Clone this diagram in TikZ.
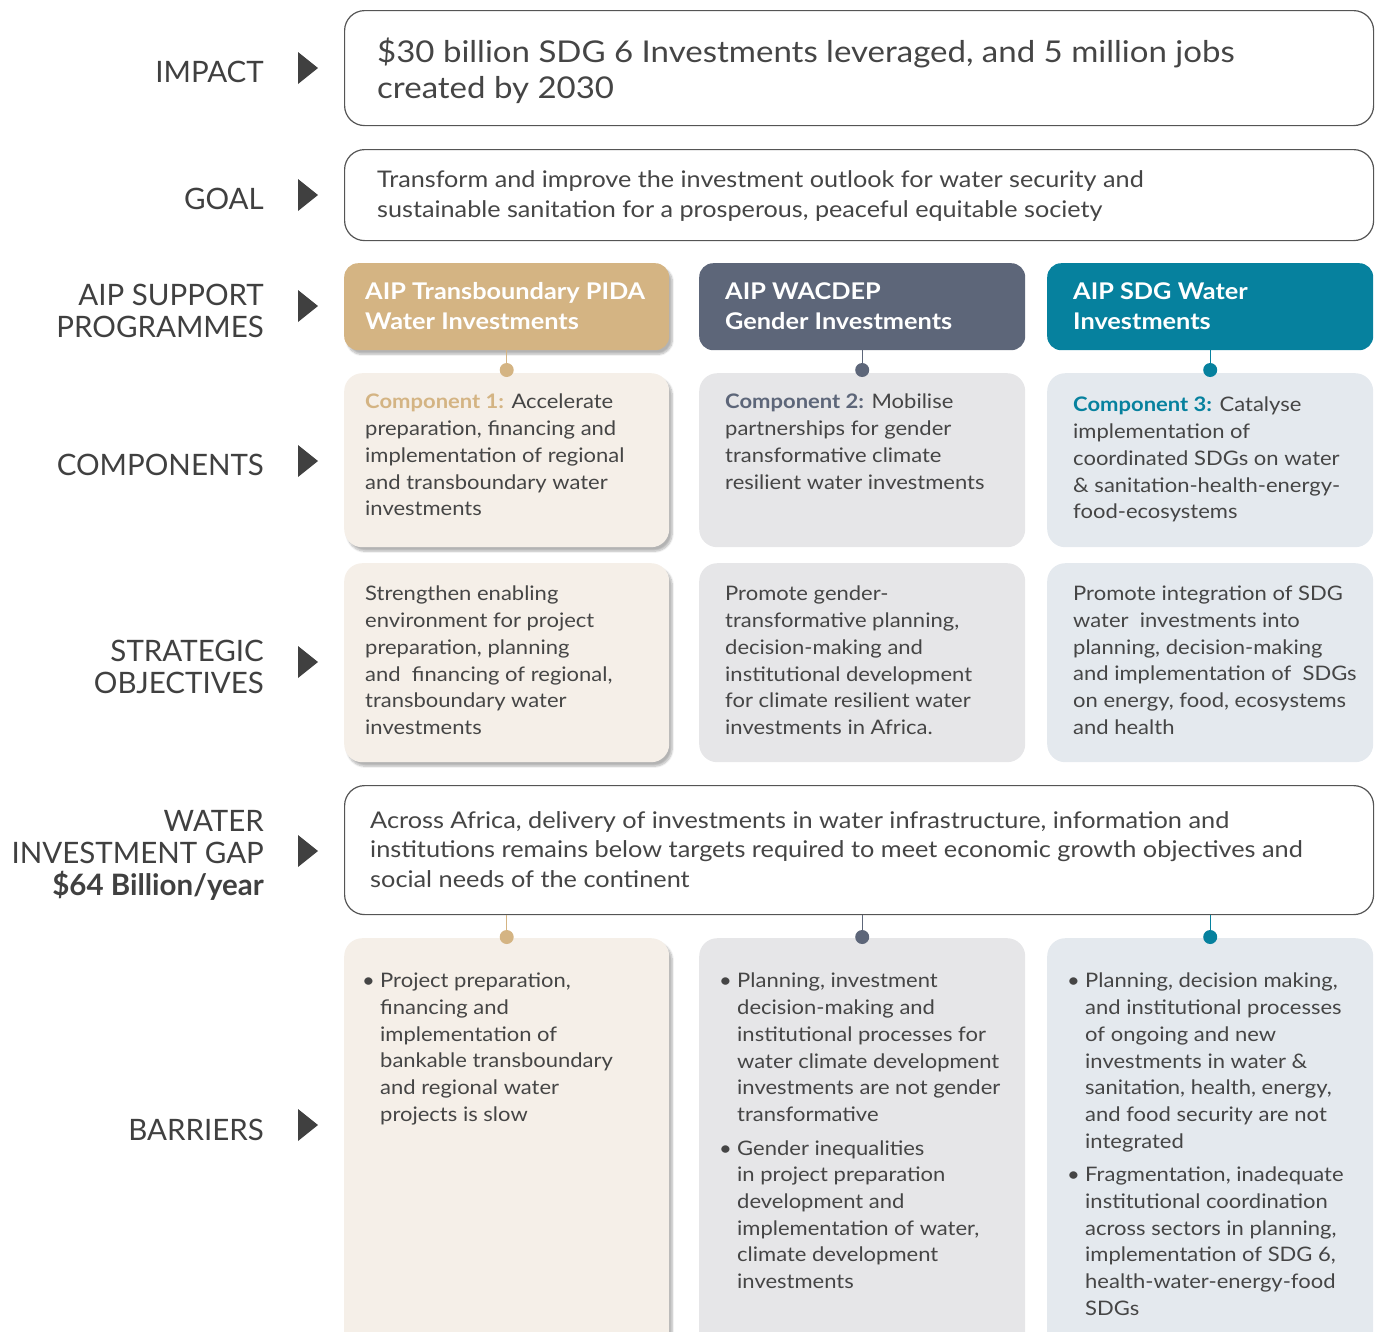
\documentclass[tikz,border=0pt]{standalone}
\usepackage{fontspec}
\setmainfont{Lato}[FakeStretch=1.1]
\newfontfamily\labfont{Lato}
\usetikzlibrary{calc,shadows.blur}

\definecolor{labgray}{HTML}{404040}
\definecolor{bodygray}{HTML}{454545}
\definecolor{boxline}{HTML}{555555}
\definecolor{pidatan}{HTML}{D4B483}
\definecolor{wacslate}{HTML}{5D6679}
\definecolor{sdgteal}{HTML}{06819E}
\definecolor{pidafill}{HTML}{F5EFE8}
\definecolor{wacfill}{HTML}{E6E6E8}
\definecolor{sdgfill}{HTML}{E4E9EE}

\newcommand{\bitem}{\makebox[18pt][l]{\textbullet}}
\newcommand{\bcont}{\hspace*{18pt}}

\tikzset{
  lab/.style={anchor=east, align=right, text=labgray, inner sep=0pt,
    font=\labfont\fontsize{29.5}{32}\selectfont},
  whitebox/.style={draw=boxline, line width=1.2pt, fill=white, rounded corners=20pt,
    anchor=north west, minimum width=1029pt, inner sep=0pt},
  headbox/.style={rounded corners=14pt, anchor=north west, minimum width=326pt,
    minimum height=87pt, inner sep=0pt},
  cellbox/.style={rounded corners=18pt, anchor=north west, minimum width=326pt, inner sep=0pt},
  celltext/.style={anchor=north west, align=left, inner sep=0pt, text=bodygray,
    font=\fontsize{20}{26.7}\selectfont},
  headtext/.style={anchor=north west, align=left, inner sep=0pt, text=white,
    font=\bfseries\fontsize{23}{30}\selectfont},
  tanshadow/.style={blur shadow={shadow xshift=3pt, shadow yshift=-4pt,
    shadow blur steps=8, shadow opacity=30}},
  dot/.style={circle, fill, inner sep=0pt, minimum size=14pt},
  link/.style={line width=1.2pt},
}

\begin{document}
\begin{tikzpicture}[x=1pt, y=-1pt]
\clip (0,0) rectangle (1379,1331);

% row labels
\node[lab] (impactlab) at (264,72) {IMPACT};
\node[lab] (goallab) at (264,199) {GOAL};
\node[lab] (proglab) at (264,311) {AIP SUPPORT\\PROGRAMMES};
\node[lab] (complab) at (264,465) {COMPONENTS};
\node[lab] (objlab) at (264,667) {STRATEGIC\\OBJECTIVES};
\node[lab] (gaplab) at (264,855) {WATER\\INVESTMENT GAP\\\textbf{\$64 Billion/year}};
\node[lab] (barlab) at (264,1130) {BARRIERS};

\foreach \y in {68,195,306,461,662,851,1125}
  \fill[labgray] (298,\y-16) -- (318,\y) -- (298,\y+16) -- cycle;

% impact and goal
\node[whitebox, minimum height=115pt] (impact) at (344,10) {};
\node[anchor=north west, align=left, inner sep=0pt, text=bodygray,
  font=\fontsize{30}{36}\selectfont] (impacttxt) at (377,38)
  {\$30 billion SDG 6 Investments leveraged, and 5 million jobs\\created by 2030};

\node[whitebox, minimum height=91pt] (goal) at (344,149) {};
\node[anchor=north west, align=left, inner sep=0pt, text=bodygray,
  font=\fontsize{22.9}{30}\selectfont] (goaltxt) at (377,170)
  {Transform and improve the investment outlook for water security and\\
   sustainable sanitation for a prosperous, peaceful equitable society};

% programmes
\node[headbox, fill=pidatan, minimum width=325pt, tanshadow] (h1) at (344,263) {};
\node[headbox, fill=wacslate] (h2) at (699,263) {};
\node[headbox, fill=sdgteal] (h3) at (1047,263) {};
\node[headtext] (h1t) at (365,282) {AIP Transboundary PIDA\\Water Investments};
\node[headtext] (h2t) at (725,282) {AIP WACDEP\\Gender Investments};
\node[headtext] (h3t) at (1073,282) {AIP SDG Water\\Investments};

% components
\node[cellbox, fill=pidafill, minimum width=325pt, minimum height=174pt, tanshadow] (c1) at (344,373) {};
\node[cellbox, fill=wacfill, minimum height=174pt] (c2) at (699,373) {};
\node[cellbox, fill=sdgfill, minimum height=174pt] (c3) at (1047,373) {};

\node[dot, pidatan] (d1) at (h1.south |- 0,370) {};
\node[dot, wacslate] (d2) at (h2.south |- 0,370) {};
\node[dot, sdgteal] (d3) at (h3.south |- 0,370) {};
\draw[link, pidatan] (h1.south) -- (d1);
\draw[link, wacslate] (h2.south) -- (d2);
\draw[link, sdgteal] (h3.south) -- (d3);

\node[celltext] (c1t) at (365,394)
  {\textcolor{pidatan}{\bfseries Component 1:} Accelerate\\preparation, financing and\\
   implementation of regional\\and transboundary water\\investments};
\node[celltext] (c2t) at (725,394)
  {\textcolor{wacslate}{\bfseries Component 2:} Mobilise\\partnerships for gender\\
   transformative climate\\resilient water investments};
\node[celltext] (c3t) at (1073,397)
  {\textcolor{sdgteal}{\bfseries Component 3:} Catalyse\\implementation of\\
   coordinated SDGs on water\\\& sanitation-health-energy-\\food-ecosystems};

% strategic objectives
\node[cellbox, fill=pidafill, minimum width=325pt, minimum height=199pt, tanshadow] (o1) at (344,563) {};
\node[cellbox, fill=wacfill, minimum height=199pt] (o2) at (699,563) {};
\node[cellbox, fill=sdgfill, minimum height=199pt] (o3) at (1047,563) {};

\node[celltext] (o1t) at (365,586)
  {Strengthen enabling\\environment for project\\preparation, planning\\
   and\ \ financing of regional,\\transboundary water\\investments};
\node[celltext] (o2t) at (725,586)
  {Promote gender-\\transformative planning,\\decision-making and\\
   institutional development\\for climate resilient water\\investments in Africa.};
\node[celltext] (o3t) at (1073,586)
  {Promote integration of SDG\\water\ \ investments into\\planning, decision-making\\
   and implementation of\ \ SDGs\\on energy, food, ecosystems\\and health};

% investment gap
\node[whitebox, minimum height=129pt] (gap) at (344,785) {};
\node[anchor=north west, align=left, inner sep=0pt, text=bodygray,
  font=\fontsize{23}{29.5}\selectfont] (gaptxt) at (370,811)
  {Across Africa, delivery of investments in water infrastructure, information and\\
   institutions remains below targets required to meet economic growth objectives and\\
   social needs of the continent};

% barriers
\node[cellbox, fill=pidafill, minimum width=325pt, minimum height=420pt, tanshadow] (b1) at (344,938) {};
\node[cellbox, fill=wacfill, minimum height=420pt] (b2) at (699,938) {};
\node[cellbox, fill=sdgfill, minimum height=420pt] (b3) at (1047,938) {};

\node[dot, pidatan] (d4) at (d1 |- 0,937) {};
\node[dot, wacslate] (d5) at (d2 |- 0,937) {};
\node[dot, sdgteal] (d6) at (d3 |- 0,937) {};
\draw[link, pidatan] (gap.south -| d4) -- (d4);
\draw[link, wacslate] (gap.south -| d5) -- (d5);
\draw[link, sdgteal] (gap.south -| d6) -- (d6);

\node[celltext] (b1t) at (362,973)
  {\bitem Project preparation,\\\bcont financing and\\\bcont implementation of\\
   \bcont bankable transboundary\\\bcont and regional water\\\bcont projects is slow};
\node[celltext] (b2t) at (719,973)
  {\bitem Planning, investment\\\bcont decision-making and\\\bcont institutional processes for\\
   \bcont water climate development\\\bcont investments are not gender\\\bcont transformative\\[7pt]
   \bitem Gender inequalities\\\bcont in project preparation\\\bcont development and\\
   \bcont implementation of water,\\\bcont climate development\\\bcont investments};
\node[celltext] (b3t) at (1067,973)
  {\bitem Planning, decision making,\\\bcont and institutional processes\\\bcont of ongoing and new\\
   \bcont investments in water \&\\\bcont sanitation, health, energy,\\\bcont and food security are not\\
   \bcont integrated\\[7pt]
   \bitem Fragmentation, inadequate\\\bcont institutional coordination\\\bcont across sectors in planning,\\
   \bcont implementation of SDG 6,\\\bcont health-water-energy-food\\\bcont SDGs};
\end{tikzpicture}
\end{document}
